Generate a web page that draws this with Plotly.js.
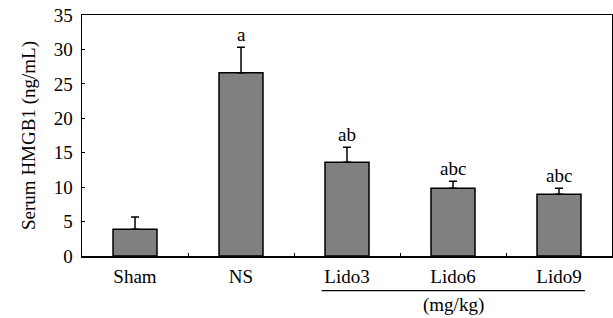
<!DOCTYPE html>
<html><head><meta charset="utf-8">
<script src="https://cdn.plot.ly/plotly-3.0.1.min.js"></script>
<style>html,body{margin:0;padding:0;background:#fff}#c{width:613px;height:318px}</style>
</head><body><div id="c"></div>
<script>
var groups = ["Sham", "NS", "Lido3", "Lido6", "Lido9"];
var means = [3.9, 26.6, 13.6, 9.85, 8.95];
var errs = [1.75, 3.7, 2.2, 1.0, 0.9];
var letters = ["", "a", "ab", "abc", "abc"];
var unitLabel = "(mg/kg)";
var yTitle = "Serum HMGB1 (ng/mL)";

var FONT = "Liberation Serif, Times New Roman, serif";
var FS = 19;

var trace = {
  type: "bar", x: groups, y: means,
  marker: {color: "#808080", line: {color: "#000", width: 1.5}},
  error_y: {type: "data", symmetric: false, array: errs, arrayminus: groups.map(function(){return 0;}),
            color: "#000", thickness: 1.5, width: 4},
  width: 0.415, hoverinfo: "none"
};

var annotations = groups.map(function(g, i){
  return {x: g, y: means[i] + errs[i], xref: "x", yref: "y", text: letters[i],
          showarrow: false, yanchor: "bottom", yshift: 0,
          font: {family: FONT, size: FS, color: "#000"}};
});
annotations.push({x: 3, xref: "x", y: -0.205, yref: "paper", text: unitLabel, showarrow: false,
  yanchor: "middle", font: {family: FONT, size: FS, color: "#000"}});

var layout = {
  width: 613, height: 318,
  margin: {l: 82, r: 1, t: 15, b: 62},
  paper_bgcolor: "#fff", plot_bgcolor: "#fff",
  showlegend: false,
  font: {family: FONT, size: FS, color: "#000"},
  xaxis: {type: "category", showline: true, mirror: true, linecolor: "#000", linewidth: 1.5,
          ticks: "inside", tickson: "boundaries", ticklen: 3, tickcolor: "#000", tickwidth: 1,
          ticklabelstandoff: 3,
          showgrid: false, zeroline: false, tickfont: {family: FONT, size: FS}, range: [-0.5, 4.5]},
  yaxis: {range: [0, 35], dtick: 5, showline: true, mirror: true, linecolor: "#000", linewidth: 1.5,
          ticks: "inside", ticklen: 3, tickcolor: "#000", tickwidth: 1, showgrid: false, zeroline: false,
          ticklabelstandoff: 4,
          tickfont: {family: FONT, size: FS},
          title: {text: yTitle, font: {family: FONT, size: 19}, standoff: 13}},
  shapes: [{type: "line", xref: "x", yref: "paper", x0: 1.76, x1: 4.245, y0: -0.144, y1: -0.144,
            line: {color: "#000", width: 1.2}}],
  annotations: annotations
};
Plotly.newPlot("c", [trace], layout, {displayModeBar: false, staticPlot: true});
</script></body></html>
